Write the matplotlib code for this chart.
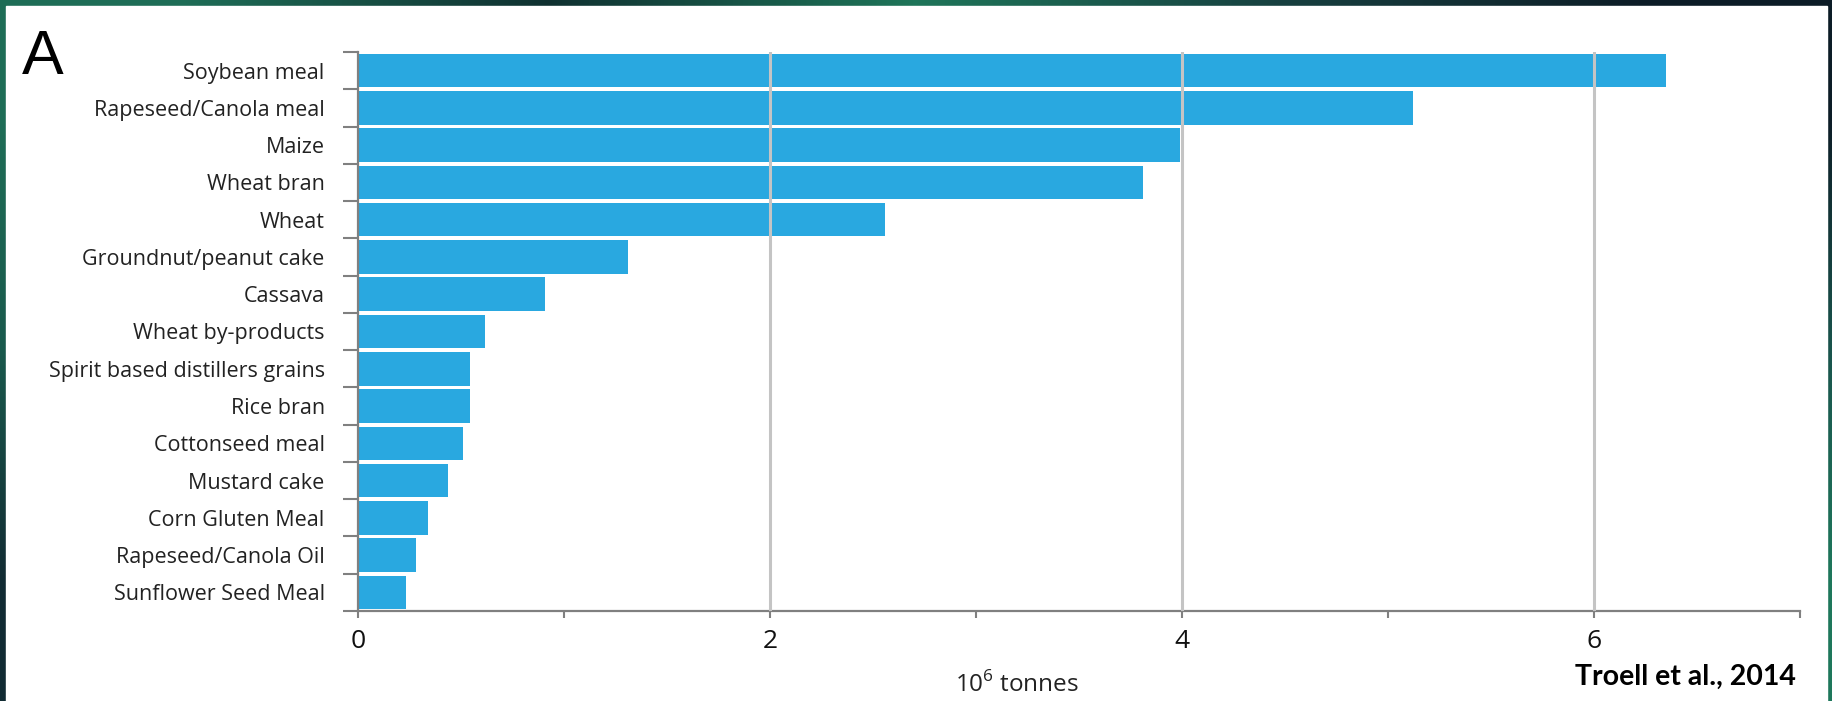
import numpy as np
import matplotlib.pyplot as plt
from matplotlib.patches import Rectangle

plt.rcParams['font.family'] = ['Open Sans', 'DejaVu Sans']
plt.rcParams['mathtext.fontset'] = 'custom'
plt.rcParams['mathtext.rm'] = 'Open Sans'

# feed ingredients, million tonnes
ingredients = ["Soybean meal", "Rapeseed/Canola meal", "Maize", "Wheat bran", "Wheat",
               "Groundnut/peanut cake", "Cassava", "Wheat by-products",
               "Spirit based distillers grains", "Rice bran", "Cottonseed meal",
               "Mustard cake", "Corn Gluten Meal", "Rapeseed/Canola Oil",
               "Sunflower Seed Meal"]
tonnes = [6.35, 5.12, 3.99, 3.81, 2.56, 1.31, 0.91, 0.617, 0.544, 0.544,
          0.51, 0.437, 0.34, 0.28, 0.233]

x_ticks = [0, 2, 4, 6]
source = "Troell et al., 2014"

W, H = 1833, 701
fig = plt.figure(figsize=(W / 100, H / 100), dpi=100)

# slide background: dark green gradient frame behind a white panel
bg = fig.add_axes([0, 0, 1, 1], zorder=-10)
bg_colors = np.array([
    [[0.12, 0.43, 0.34], [0.06, 0.19, 0.19], [0.12, 0.46, 0.35], [0.09, 0.25, 0.25], [0.05, 0.11, 0.15]],
    [[0.10, 0.35, 0.30], [0.07, 0.20, 0.20], [0.10, 0.35, 0.30], [0.09, 0.30, 0.28], [0.10, 0.33, 0.30]],
    [[0.07, 0.17, 0.20], [0.07, 0.18, 0.20], [0.09, 0.30, 0.28], [0.11, 0.42, 0.34], [0.12, 0.47, 0.36]],
])
bg.imshow(bg_colors, extent=[0, 1, 0, 1], aspect='auto', interpolation='bilinear')
bg.add_patch(Rectangle((6 / W, 0), 1 - 12 / W, 1 - 6 / H, color='white', zorder=5))
bg.set_xlim(0, 1)
bg.set_ylim(0, 1)
bg.axis('off')

ax = fig.add_axes([358 / W, 1 - 611 / H, (1800 - 358) / W, (611 - 52) / H])
ax.set_facecolor('none')

y = np.arange(len(ingredients))
ax.barh(y, tonnes, height=0.9, color='#29a8e0', zorder=2)

ax.set_xlim(0, 7)
ax.set_ylim(len(ingredients) - 0.5, -0.5)

for gx in x_ticks[1:]:
    ax.axvline(gx, color='#c4c4c4', lw=2.2, zorder=3)

ax.set_xticks(x_ticks)
ax.set_xticks([1, 3, 5, 7], minor=True)
ax.tick_params(axis='x', which='both', length=5, width=1.5, color='#808080',
               labelsize=19, pad=8, labelcolor='#111111')

ax.set_yticks(np.arange(len(ingredients) + 1) - 0.5)
ax.set_yticklabels([])
ax.set_yticks(y, minor=True)
ax.set_yticklabels(ingredients, minor=True)
ax.tick_params(axis='y', which='major', length=11, width=1.5, color='#808080')
ax.tick_params(axis='y', which='minor', length=0, pad=24, labelsize=15.5,
               labelcolor='#222222')

for side in ['top', 'right']:
    ax.spines[side].set_visible(False)
for side in ['left', 'bottom']:
    ax.spines[side].set_color('#808080')
    ax.spines[side].set_linewidth(1.6)

fig.text(1017 / W, 1 - 685 / H, r"10$^{\mathregular{6}}$ tonnes", ha='center', va='center',
         fontsize=17.5, color='#222222')
fig.text(22 / W, 1 - 74 / H, "A", fontsize=45, ha='left', va='baseline', color='black',
         family=['Liberation Sans', 'DejaVu Sans'])
fig.text(1796 / W, 1 - 677 / H, source, fontsize=20.5, fontweight='bold',
         family=['Lato', 'DejaVu Sans'], ha='right', va='center', color='black')

fig.savefig("out.png", dpi=100)
